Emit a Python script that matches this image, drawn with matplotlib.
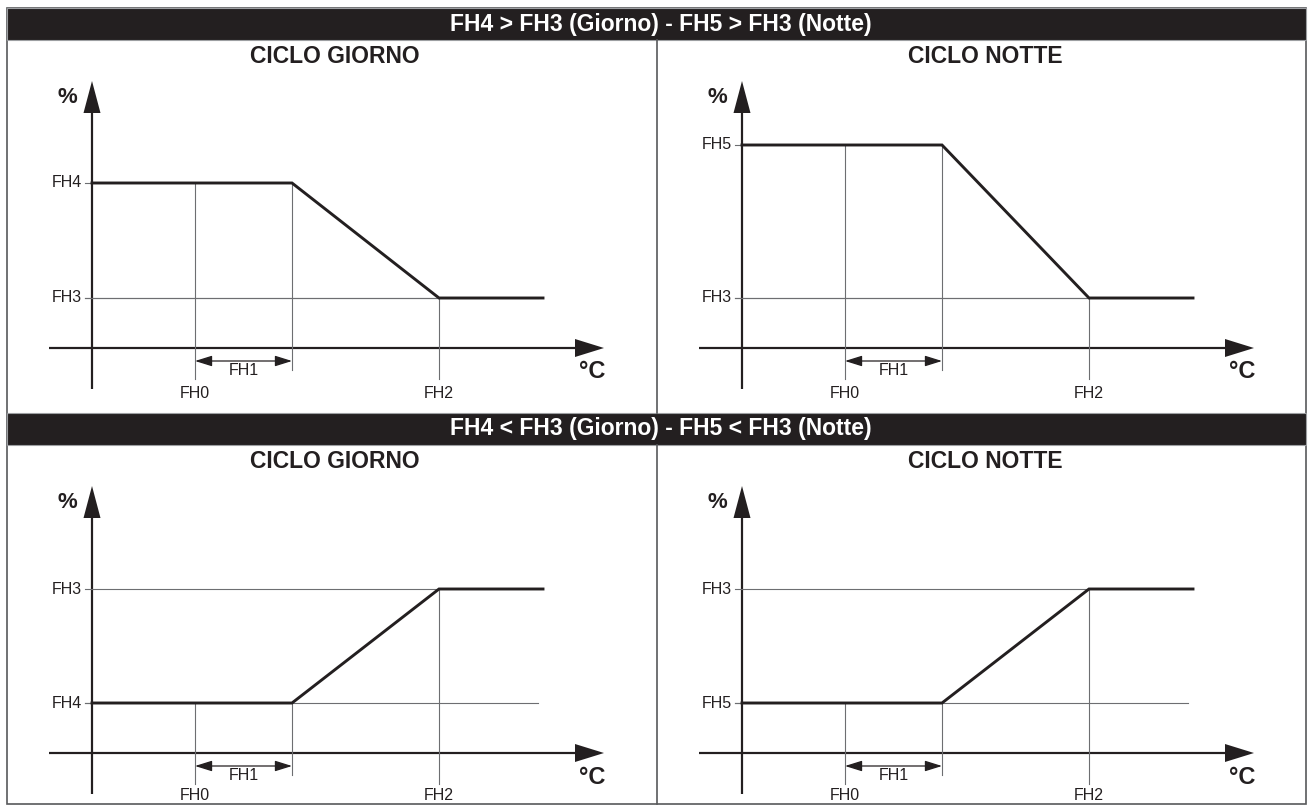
import matplotlib
matplotlib.use("Agg")
from matplotlib import pyplot as plt
from matplotlib import font_manager
from matplotlib.patches import Rectangle

# header texts and cycle names
cases = ["FH4 > FH3 (Giorno) - FH5 > FH3 (Notte)",
         "FH4 < FH3 (Giorno) - FH5 < FH3 (Notte)"]
cycles = ["CICLO GIORNO", "CICLO NOTTE"]

# x positions (schematic units from the origin)
x_labels = ["FH0", "FH1", "FH2"]
fh0 = 10.3
fh1 = 20.0
fh2 = 34.7
x_end = 45.1

# per panel: (top-left, top-right, bottom-left, bottom-right)
start_names = ["FH4", "FH5", "FH4", "FH5"]
end_names = ["FH3", "FH3", "FH3", "FH3"]
start_levels = [16.5, 20.3, 5.0, 5.0]
end_levels = [5.0, 5.0, 16.4, 16.4]

W, H = 1308, 809
DARK = "#231f20"
THIN = "#6d6e71"

names = {f.name for f in font_manager.fontManager.ttflist}
narrow = "Liberation Sans Narrow" if "Liberation Sans Narrow" in names else "Liberation Sans"
plt.rcParams["font.family"] = ["Liberation Sans", "DejaVu Sans"]

fig = plt.figure(figsize=(W / 100, H / 100), dpi=100)


def fx(px):
    return px / W


def fy(py):
    return 1 - py / H


# outer frame, header bands, dividers
fig.add_artist(Rectangle((fx(7), fy(804)), fx(1299), 796 / H, transform=fig.transFigure,
                         fill=False, ec="#58595b", lw=1.2, zorder=0))
for i, (top, bot) in enumerate([(8, 40), (413, 445)]):
    fig.add_artist(Rectangle((fx(7), fy(bot)), fx(1299), (bot - top) / H,
                             transform=fig.transFigure, fc=DARK, ec="#9d9fa2", lw=0.8))
    fig.text(0.5 + fx(7), fy((top + bot) / 2), cases[i], color="white", fontsize=16.5,
             fontweight="bold", ha="center", va="center")
for top, bot in [(40, 413), (445, 804)]:
    fig.add_artist(plt.Line2D([fx(657), fx(657)], [fy(top), fy(bot)],
                              transform=fig.transFigure, color="#58595b", lw=1.2))

# panel boxes in pixels: left, top, right, bottom, origin x, origin y
boxes = [(7, 40, 657, 413, 92, 348), (657, 40, 1306, 413, 742, 348),
         (7, 445, 657, 803, 92, 753), (657, 445, 1306, 803, 742, 753)]

for k, (l, t, r, b, ox, oy) in enumerate(boxes):
    ax = fig.add_axes([fx(l), fy(b), (r - l) / W, (b - t) / H])
    ax.set_xlim((l - ox) / 10, (r - ox) / 10)
    ax.set_ylim((oy - b) / 10, (oy - t) / 10)
    ax.axis("off")

    y0 = start_levels[k]
    y1 = end_levels[k]
    low = min(y0, y1)
    lab_y = -4.6 if k < 2 else -4.3

    ax.text(24.3, 29.1, cycles[k % 2], fontsize=16.5, fontweight="bold",
            color=DARK, ha="center", va="center")

    # thin reference lines
    ax.plot([-0.7, 44.6], [low, low], color=THIN, lw=0.8)
    ax.plot([-0.7, fh2], [y1, y1], color=THIN, lw=0.8)
    ax.plot([-0.7, 0], [y0, y0], color=THIN, lw=0.8)
    ax.plot([fh0, fh0], [y0, -3.1], color=THIN, lw=0.8)
    ax.plot([fh1, fh1], [y0, -2.2], color=THIN, lw=0.8)
    ax.plot([fh2, fh2], [y1, -3.1], color=THIN, lw=0.8)

    # axes with arrows
    ax.arrow(-4.3, 0, 55.5, 0, width=0.22, head_width=1.8, head_length=2.9,
             length_includes_head=True, fc=DARK, ec=DARK, lw=0)
    ax.arrow(0, -4.1, 0, 30.8, width=0.22, head_width=1.7, head_length=3.2,
             length_includes_head=True, fc=DARK, ec=DARK, lw=0)
    ax.text(-2.5, 25.0, "%", fontsize=16, fontweight="bold", color=DARK,
            ha="center", va="center")
    ax.text(50.0, -2.4, "°C", fontsize=17, fontweight="bold", color=DARK,
            ha="center", va="center")

    # FH1 span
    ax.annotate("", xy=(fh0, -1.3), xytext=(fh1, -1.3),
                arrowprops=dict(arrowstyle="<|-|>,head_length=0.8,head_width=0.25",
                                color=DARK, lw=0.9, mutation_scale=13,
                                shrinkA=0, shrinkB=0))

    lab = dict(fontsize=11.5, color=DARK, family=[narrow, "DejaVu Sans"])
    ax.text((fh0 + fh1) / 2, -2.3, x_labels[1], ha="center", va="center", **lab)
    ax.text(fh0, lab_y, x_labels[0], ha="center", va="center", **lab)
    ax.text(fh2, lab_y, x_labels[2], ha="center", va="center", **lab)
    ax.text(-1.0, y0, start_names[k], ha="right", va="center", **lab)
    ax.text(-1.0, y1, end_names[k], ha="right", va="center", **lab)

    # control curve
    ax.plot([0, fh1, fh2, x_end], [y0, y0, y1, y1], color=DARK, lw=2.1,
            solid_joinstyle="miter")

fig.savefig("out.png", dpi=100)
